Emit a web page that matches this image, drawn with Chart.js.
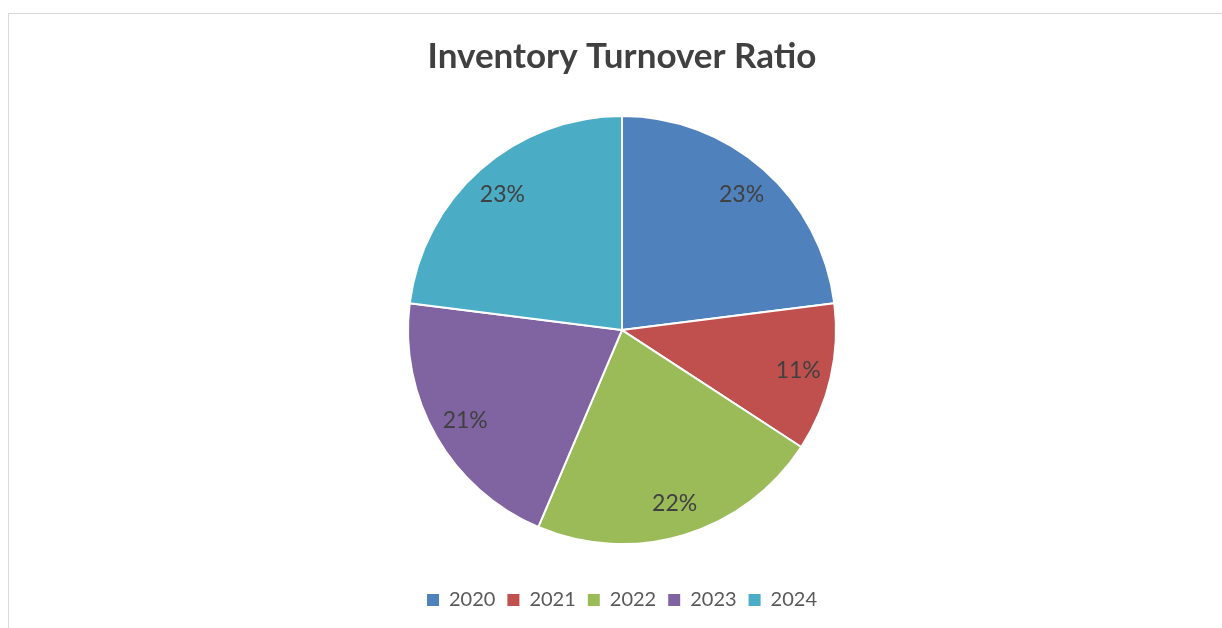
<!DOCTYPE html>
<html>
<head>
<meta charset="utf-8">
<script src="https://cdn.jsdelivr.net/npm/chart.js@4.4.1/dist/chart.umd.min.js"></script>
<style>
  html, body { margin: 0; padding: 0; background: #ffffff; overflow: hidden; width: 1222px; height: 628px; }
  #frame { position: absolute; left: 8px; top: 13px; width: 1226px; height: 640px; border: 1px solid #d9d9d9; }
  #wrap { position: relative; width: 1226px; height: 606px; }
</style>
</head>
<body>
<div id="frame"><div id="wrap"><canvas id="c"></canvas></div></div>
<script>
const chartTitle = 'Inventory Turnover Ratio';
const categories = ['2020', '2021', '2022', '2023', '2024'];
const values = [23.0, 11.2, 22.2, 20.6, 23.0];
const colors = ['#4F81BD', '#C0504D', '#9BBB59', '#8064A2', '#4BACC6'];

const FONT = 'Lato, "Open Sans", sans-serif';

const pctLabels = {
  id: 'pctLabels',
  afterDatasetsDraw(chart) {
    const ctx = chart.ctx;
    const meta = chart.getDatasetMeta(0);
    const data = chart.data.datasets[0].data;
    const total = data.reduce((a, b) => a + b, 0);
    ctx.save();
    ctx.font = '23px ' + FONT;
    ctx.fillStyle = '#404040';
    ctx.textAlign = 'center';
    ctx.textBaseline = 'middle';
    meta.data.forEach((arc, i) => {
      const p = arc.getProps(['x', 'y', 'startAngle', 'endAngle', 'outerRadius'], true);
      const mid = (p.startAngle + p.endAngle) / 2;
      const r = p.outerRadius * 0.845;
      const x = p.x + Math.cos(mid) * r;
      const y = p.y + Math.sin(mid) * r;
      ctx.fillText(Math.round(data[i] / total * 100) + '%', x, y);
    });
    ctx.restore();
  }
};

new Chart(document.getElementById('c'), {
  type: 'pie',
  data: {
    labels: categories,
    datasets: [{
      data: values,
      backgroundColor: colors,
      borderColor: '#ffffff',
      borderWidth: 2,
      radius: 214
    }]
  },
  options: {
    responsive: true,
    maintainAspectRatio: false,
    animation: false,
    layout: { padding: { top: 0, bottom: 0, left: 0, right: 0 } },
    plugins: {
      title: {
        display: true,
        text: chartTitle,
        color: '#404040',
        font: { family: FONT, size: 35, weight: 'bold' },
        padding: { top: 22, bottom: 4.2 }
      },
      legend: {
        position: 'bottom',
        labels: {
          color: '#595959',
          font: { family: FONT, size: 20 },
          boxWidth: 12,
          boxHeight: 12,
          padding: 12,
          generateLabels(chart) {
            const items = Chart.overrides.pie.plugins.legend.labels.generateLabels(chart);
            items.forEach(it => { it.lineWidth = 0; it.strokeStyle = 'transparent'; });
            return items;
          }
        }
      },
      tooltip: { enabled: false }
    }
  },
  plugins: [pctLabels]
});
</script>
</body>
</html>
